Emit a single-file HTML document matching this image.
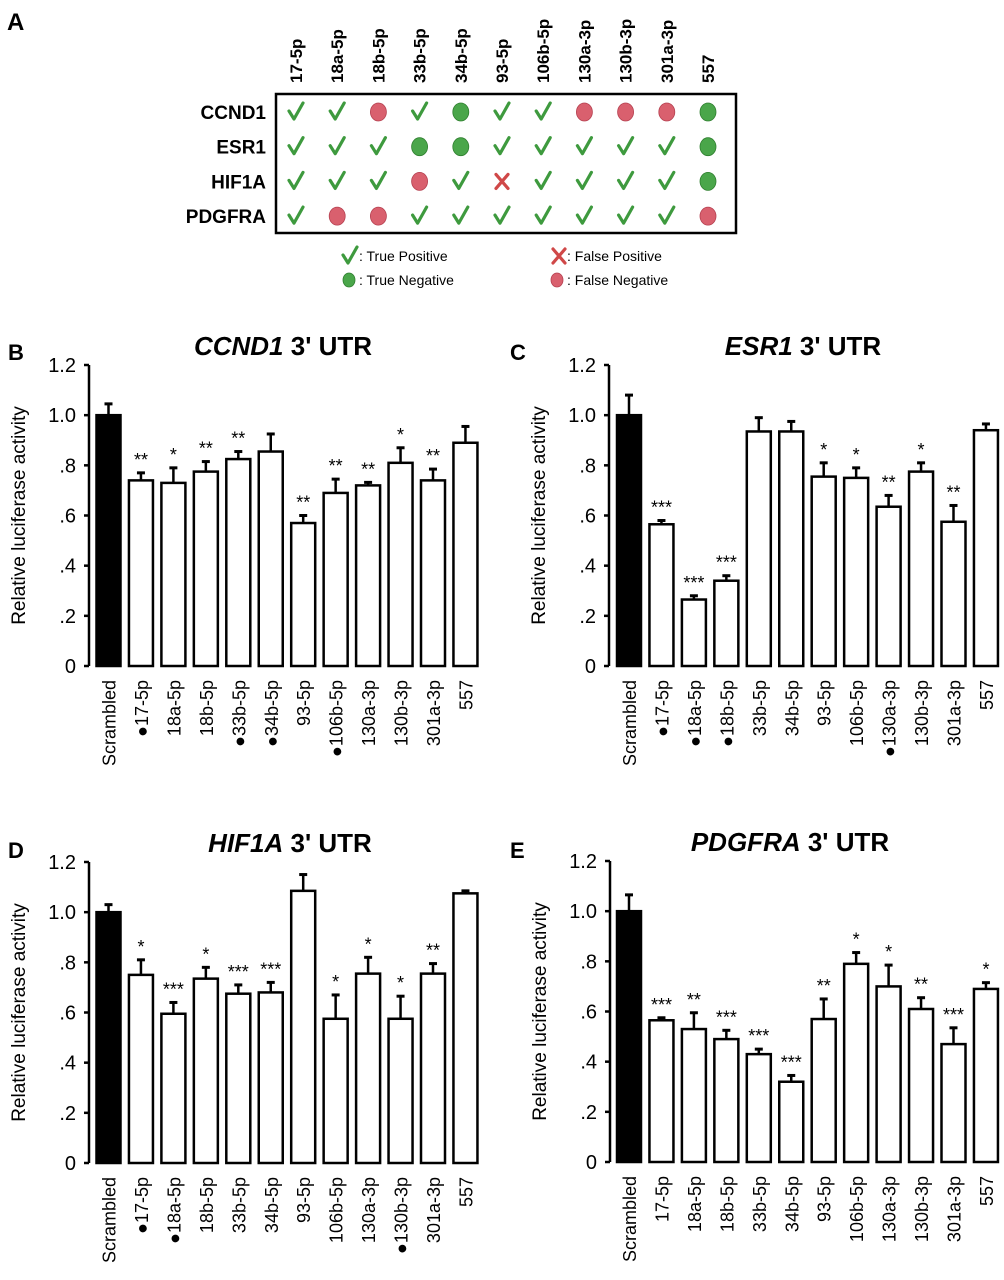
<!DOCTYPE html>
<html><head><meta charset="utf-8"><style>
body{margin:0;background:#fff;}
svg{display:block;font-family:"Liberation Sans",Arial,sans-serif;}
</style></head><body>
<svg id="fig" width="1004" height="1280" viewBox="0 0 1004 1280">
<g id="panelA"></g>
</svg>
<script>
const NS="http://www.w3.org/2000/svg";
const svg=document.getElementById('fig');
function mk(tag,attrs,parent){const e=document.createElementNS(NS,tag);for(const k in attrs)e.setAttribute(k,attrs[k]);(parent||svg).appendChild(e);return e;}

// ---------- Panel A data ----------
const mirnas=["17-5p","18a-5p","18b-5p","33b-5p","34b-5p","93-5p","106b-5p","130a-3p","130b-3p","301a-3p","557"];
const genes=["CCND1","ESR1","HIF1A","PDGFRA"];
// T=true positive, N=true negative, F=false negative, X=false positive
const matrix=[
"TTFTNTTFFFN",
"TTTNNTTTTTN",
"TTTFTXTTTTN",
"TFFTTTTTTTF"];

const A=document.getElementById('panelA');
let t=mk('text',{x:7,y:30,'font-size':24,'font-weight':'bold'},A);t.textContent='A';


const colX=i=>296+i*41.2, rowY=j=>112+j*34.7;
mk('rect',{x:276,y:94,width:460,height:139,fill:'none',stroke:'#000','stroke-width':2.5},A);
function check(x,y,p){return mk('path',{d:`M${x-7} ${y-1} L${x-2} ${y+7} L${x+7} ${y-9}`,fill:'none',stroke:'#3e9a3e','stroke-width':3.2,'stroke-linecap':'round','stroke-linejoin':'round'},p);}
function dot(x,y,c,p){return mk('ellipse',{cx:x,cy:y,rx:8,ry:9,fill:c,stroke:c==='#4aa64a'?'#2f7f2f':'#b54050','stroke-width':0.8},p);}
function cross(x,y,p){const g=mk('g',{},p);mk('path',{d:`M${x-6} ${y-7} L${x+6} ${y+7} M${x+6} ${y-7} L${x-6} ${y+7}`,stroke:'#d04848','stroke-width':3.2,'stroke-linecap':'round'},g);return g;}
mirnas.forEach((m,i)=>{
  const tx=mk('text',{transform:`translate(${colX(i)+6},83) rotate(-90)`,'font-size':17,'font-weight':'bold'},A);
  tx.textContent=m;
  
  
});
genes.forEach((g,j)=>{
  const tx=mk('text',{x:266,y:rowY(j)+7,'font-size':19,'font-weight':'bold','text-anchor':'end'},A);
  tx.textContent=g;
  
  
  for(let i=0;i<mirnas.length;i++){
    const c=matrix[j][i],x=colX(i),y=rowY(j);let el;
    if(c==='T')el=check(x,y,A);else if(c==='N')el=dot(x,y,'#4aa64a',A);else if(c==='F')el=dot(x,y,'#d9606e',A);else el=cross(x,y,A);
    
    
  }
});
// legend
const L=mk('g',{},A);


check(350,256,L);cross(559,256,L);
const d1=dot(349,280,'#4aa64a',L);d1.setAttribute('rx',6);d1.setAttribute('ry',7);
const d2=dot(557,280,'#d9606e',L);d2.setAttribute('rx',6);d2.setAttribute('ry',7);
[[359,261,': True Positive'],[567,261,': False Positive'],[359,285,': True Negative'],[567,285,': False Negative']].forEach(a=>{
  const tx=mk('text',{x:a[0],y:a[1],'font-size':14},L);tx.textContent=a[2];
  
  
});

// ---------- Bar chart data ----------
const categories=["Scrambled","17-5p","18a-5p","18b-5p","33b-5p","34b-5p","93-5p","106b-5p","130a-3p","130b-3p","301a-3p","557"];
const yTicks=[0,0.2,0.4,0.6,0.8,1.0,1.2];
const yTickLabels=["0",".2",".4",".6",".8","1.0","1.2"];
const ccnd1Values=[1.0,0.74,0.73,0.775,0.825,0.855,0.57,0.69,0.72,0.81,0.74,0.89];
const ccnd1Errors=[0.045,0.03,0.06,0.04,0.03,0.07,0.03,0.055,0.012,0.06,0.045,0.065];
const ccnd1Stars=["","**","*","**","**","","**","**","**","*","**",""];
const ccnd1Dots=[0,1,0,0,1,1,0,1,0,0,0,0];
const esr1Values=[1.0,0.565,0.265,0.34,0.935,0.935,0.755,0.75,0.635,0.775,0.575,0.94];
const esr1Errors=[0.08,0.015,0.015,0.02,0.055,0.04,0.055,0.04,0.045,0.035,0.065,0.025];
const esr1Stars=["","***","***","***","","","*","*","**","*","**",""];
const esr1Dots=[0,1,1,1,0,0,0,0,1,0,0,0];
const hif1aValues=[1.0,0.75,0.595,0.735,0.675,0.68,1.085,0.575,0.755,0.575,0.755,1.075];
const hif1aErrors=[0.03,0.06,0.045,0.045,0.035,0.04,0.065,0.095,0.065,0.09,0.04,0.01];
const hif1aStars=["","*","***","*","***","***","","*","*","*","**",""];
const hif1aDots=[0,1,1,0,0,0,0,0,0,1,0,0];
const pdgfraValues=[1.0,0.565,0.53,0.49,0.43,0.32,0.57,0.79,0.70,0.61,0.47,0.69];
const pdgfraErrors=[0.065,0.01,0.065,0.035,0.02,0.025,0.08,0.045,0.085,0.045,0.065,0.025];
const pdgfraStars=["","***","**","***","***","***","**","*","*","**","***","*"];
const pdgfraDots=[0,0,0,0,0,0,0,0,0,0,0,0];

function chart(cfg){
  const g=mk('g',{});
  
  
  const ax=cfg.ax,y0=cfg.y0,ytop=y0-301;
  const yScale=v=>y0-(v/1.2)*301;
  const xScale=i=>cfg.bx+i*32.45;
  const bw=24;
  let tx=mk('text',{x:cfg.lx,y:cfg.ly,'font-size':22,'font-weight':'bold'},g);tx.textContent=cfg.letter;
  
  
  tx=mk('text',{x:cfg.tx,y:y0-311,'font-size':26,'font-weight':'bold','text-anchor':'middle'},g);
  
  
  const it=mk('tspan',{'font-style':'italic'},tx);it.textContent=cfg.gene;
  const t2=mk('tspan',{},tx);t2.textContent=" 3' UTR";
  const axis=mk('line',{x1:ax,y1:ytop,x2:ax,y2:y0,stroke:'#000','stroke-width':2.5},g);
  
  
  yTicks.forEach((v,k)=>{
    const y=yScale(v);
    mk('line',{x1:ax-5,y1:y,x2:ax,y2:y,stroke:'#000','stroke-width':2.5},g);
    const lt=mk('text',{x:ax-13,y:y+7,'font-size':20,'text-anchor':'end'},g);lt.textContent=yTickLabels[k];
    
    
  });
  const yl=mk('text',{transform:`translate(${ax-64},${(y0+ytop)/2}) rotate(-90)`,'font-size':19,'text-anchor':'middle'},g);
  yl.textContent='Relative luciferase activity';
  
  
  categories.forEach((c,i)=>{
    const v=cfg.values[i],e=cfg.errors[i],x=xScale(i),y=yScale(v),ye=yScale(v+e);
    mk('line',{x1:x+bw/2,y1:y,x2:x+bw/2,y2:ye,stroke:'#000','stroke-width':2.5},g);
    mk('line',{x1:x+bw/2-4,y1:ye,x2:x+bw/2+4,y2:ye,stroke:'#000','stroke-width':3},g);
    const r=mk('rect',{x:x,y:y,width:bw,height:y0-y,fill:i===0?'#000':'#fff',stroke:'#000','stroke-width':2.5},g);
    
    
    if(cfg.stars[i]){
      const s=mk('text',{x:x+bw/2,y:ye-7,'font-size':18,'text-anchor':'middle'},g);s.textContent=cfg.stars[i];
      
      
    }
    const lab=mk('text',{transform:`translate(${x+bw/2+7},${y0+14}) rotate(-90)`,'font-size':18,'text-anchor':'end'},g);
    lab.textContent=(cfg.dots[i]?'\u25CF':'')+c;
    
    
  });
}
chart({name:'chart-ccnd1',letter:'B',lx:8,ly:360,gene:'CCND1',tx:283,ax:89,bx:96.5,y0:666,values:ccnd1Values,errors:ccnd1Errors,stars:ccnd1Stars,dots:ccnd1Dots});
chart({name:'chart-esr1',letter:'C',lx:510,ly:360,gene:'ESR1',tx:803,ax:609,bx:617,y0:666,values:esr1Values,errors:esr1Errors,stars:esr1Stars,dots:esr1Dots});
chart({name:'chart-hif1a',letter:'D',lx:8,ly:858,gene:'HIF1A',tx:290,ax:89,bx:96.5,y0:1163,values:hif1aValues,errors:hif1aErrors,stars:hif1aStars,dots:hif1aDots});
chart({name:'chart-pdgfra',letter:'E',lx:510,ly:858,gene:'PDGFRA',tx:790,ax:610,bx:617,y0:1162,values:pdgfraValues,errors:pdgfraErrors,stars:pdgfraStars,dots:pdgfraDots});
</script>
</body></html>
